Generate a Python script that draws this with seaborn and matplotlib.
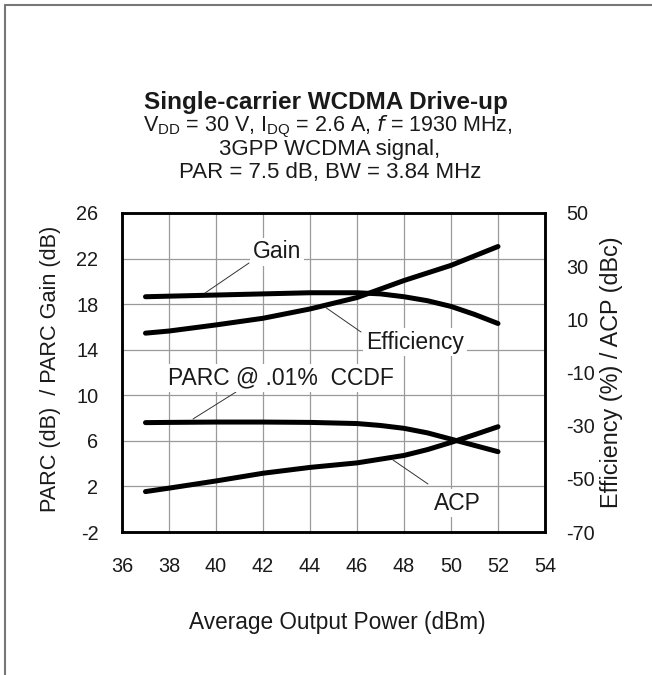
import matplotlib
matplotlib.use("Agg")
import matplotlib.pyplot as plt
import seaborn as sns
import pandas as pd
from matplotlib.lines import Line2D

sns.set_theme(style="white")
plt.rcParams['font.family'] = ['Liberation Sans', 'DejaVu Sans']
plt.rcParams['axes.unicode_minus'] = False

# ---- data ----
gain_x = [37, 38, 40, 42, 44, 46, 47, 48, 49, 50, 51, 52]
gain_y = [18.65, 18.7, 18.8, 18.9, 19.0, 19.0, 18.9, 18.65, 18.3, 17.8, 17.1, 16.3]

eff_x = [37, 38, 40, 42, 44, 46, 48, 50, 52]
eff_y = [4.8, 5.6, 7.9, 10.4, 13.9, 18.2, 24.6, 30.3, 37.4]

parc_x = [37, 38, 40, 42, 44, 46, 47, 48, 49, 50, 51, 52]
parc_y = [7.6, 7.62, 7.65, 7.65, 7.62, 7.52, 7.35, 7.1, 6.7, 6.15, 5.6, 5.05]

acp_x = [37, 38, 40, 42, 44, 46, 48, 49, 50, 51, 52]
acp_y = [-54.8, -53.5, -50.8, -47.9, -45.7, -44.0, -41.2, -39.0, -36.3, -33.4, -30.4]

x_ticks = [36, 38, 40, 42, 44, 46, 48, 50, 52, 54]
yl_ticks = [-2, 2, 6, 10, 14, 18, 22, 26]
yr_ticks = [-70, -50, -30, -10, 10, 30, 50]

left_df = pd.concat([
    pd.DataFrame({"x": gain_x, "y": gain_y, "s": "Gain"}),
    pd.DataFrame({"x": parc_x, "y": parc_y, "s": "PARC"}),
])
right_df = pd.concat([
    pd.DataFrame({"x": eff_x, "y": eff_y, "s": "Efficiency"}),
    pd.DataFrame({"x": acp_x, "y": acp_y, "s": "ACP"}),
])

W, H = 652, 675
TXT = "#1a1a1a"
fig = plt.figure(figsize=(W / 100, H / 100), dpi=100)
ax = fig.add_axes([122 / W, 1 - 532 / H, (545 - 122) / W, (532 - 213) / H])
ax2 = ax.twinx()

sns.lineplot(data=left_df, x="x", y="y", units="s", estimator=None, color="black",
             lw=3.6, ax=ax, legend=False, zorder=3, solid_capstyle="round")
sns.lineplot(data=right_df, x="x", y="y", units="s", estimator=None, color="black",
             lw=3.6, ax=ax2, legend=False, zorder=3, solid_capstyle="round")

ax.set_xlim(36, 54)
ax.set_ylim(-2, 26)
ax2.set_ylim(-70, 50)
ax.set_xticks(x_ticks)
ax.set_yticks(yl_ticks)
ax2.set_yticks(yr_ticks)
ax.grid(True, color="#9a9a9a", lw=0.9)
ax.set_axisbelow(True)
ax2.grid(False)

fs = 14.3
ax.tick_params(axis="x", length=0, labelsize=fs, colors=TXT, pad=18)
ax.tick_params(axis="y", length=0, labelsize=fs, colors=TXT, pad=17)
ax2.tick_params(axis="y", length=0, labelsize=fs, colors=TXT, pad=15.5)

for a in (ax, ax2):
    for sp in a.spines.values():
        sp.set_color("black")
        sp.set_linewidth(1.8)

ax.set_xlabel("Average Output Power (dBm)", fontsize=16.3, color=TXT)
ax.set_ylabel("PARC (dB)  / PARC Gain (dB)", fontsize=15.6, color=TXT)
ax2.set_ylabel("Efficiency (%) / ACP (dBc)", fontsize=16.8, color=TXT)
ax.xaxis.label.set_va("center")
ax.yaxis.label.set_va("center")
ax2.yaxis.label.set_va("center")
ax.xaxis.set_label_coords(0.51, -0.283)
ax.yaxis.set_label_coords(-0.168, 0.51)
ax2.yaxis.set_label_coords(1.158, 0.50)

# annotations with leader lines (figure pixel coords -> data via transforms)
def px2data(a, px, py):
    return a.transData.inverted().transform((px, H - py))

bbox = dict(facecolor="white", edgecolor="none", pad=2)
afs = 16.5
def label(a, text, tx, ty, x0, y0, x1, y1):
    p0 = px2data(a, x0, y0)
    p1 = px2data(a, x1, y1)
    a.plot([p0[0], p1[0]], [p0[1], p1[1]], color="#333333", lw=0.7, zorder=4)
    t = px2data(a, tx, ty)
    a.text(t[0], t[1], text, ha="center", va="center", fontsize=afs,
           color=TXT, bbox=bbox, zorder=5)

label(ax, "Gain", 277, 252, 205, 293, 249, 263)
label(ax2, "Efficiency", 415, 342, 325, 307, 361, 332)
label(ax, "PARC @ .01%  CCDF", 281, 378, 193, 419, 236, 392)
label(ax2, "ACP", 457, 503, 393, 460, 428, 484)

# titles
fig.text(326 / W, 1 - 102 / H, "Single-carrier WCDMA Drive-up", ha="center", va="center",
         fontsize=17.5, fontweight="bold", color=TXT)
fig.text(328 / W, 1 - 127 / H,
         r"V$_{\mathregular{DD}}$ = 30 V, I$_{\mathregular{DQ}}$ = 2.6 A, $\mathit{f}$ = 1930 MHz,",
         ha="center", va="center", fontsize=15.5, color=TXT)
fig.text(330 / W, 1 - 150 / H, "3GPP WCDMA signal,", ha="center", va="center",
         fontsize=16, color=TXT)
fig.text(330 / W, 1 - 173 / H, "PAR = 7.5 dB, BW = 3.84 MHz", ha="center", va="center",
         fontsize=16, color=TXT)

# partial frame around the figure
fig.add_artist(Line2D([5 / W, 5 / W], [0, 1 - 5 / H], color="#777777", lw=1.5,
                      transform=fig.transFigure))
fig.add_artist(Line2D([5 / W, 1], [1 - 5 / H, 1 - 5 / H], color="#777777", lw=1.5,
                      transform=fig.transFigure))

fig.savefig("out.png", dpi=100)
